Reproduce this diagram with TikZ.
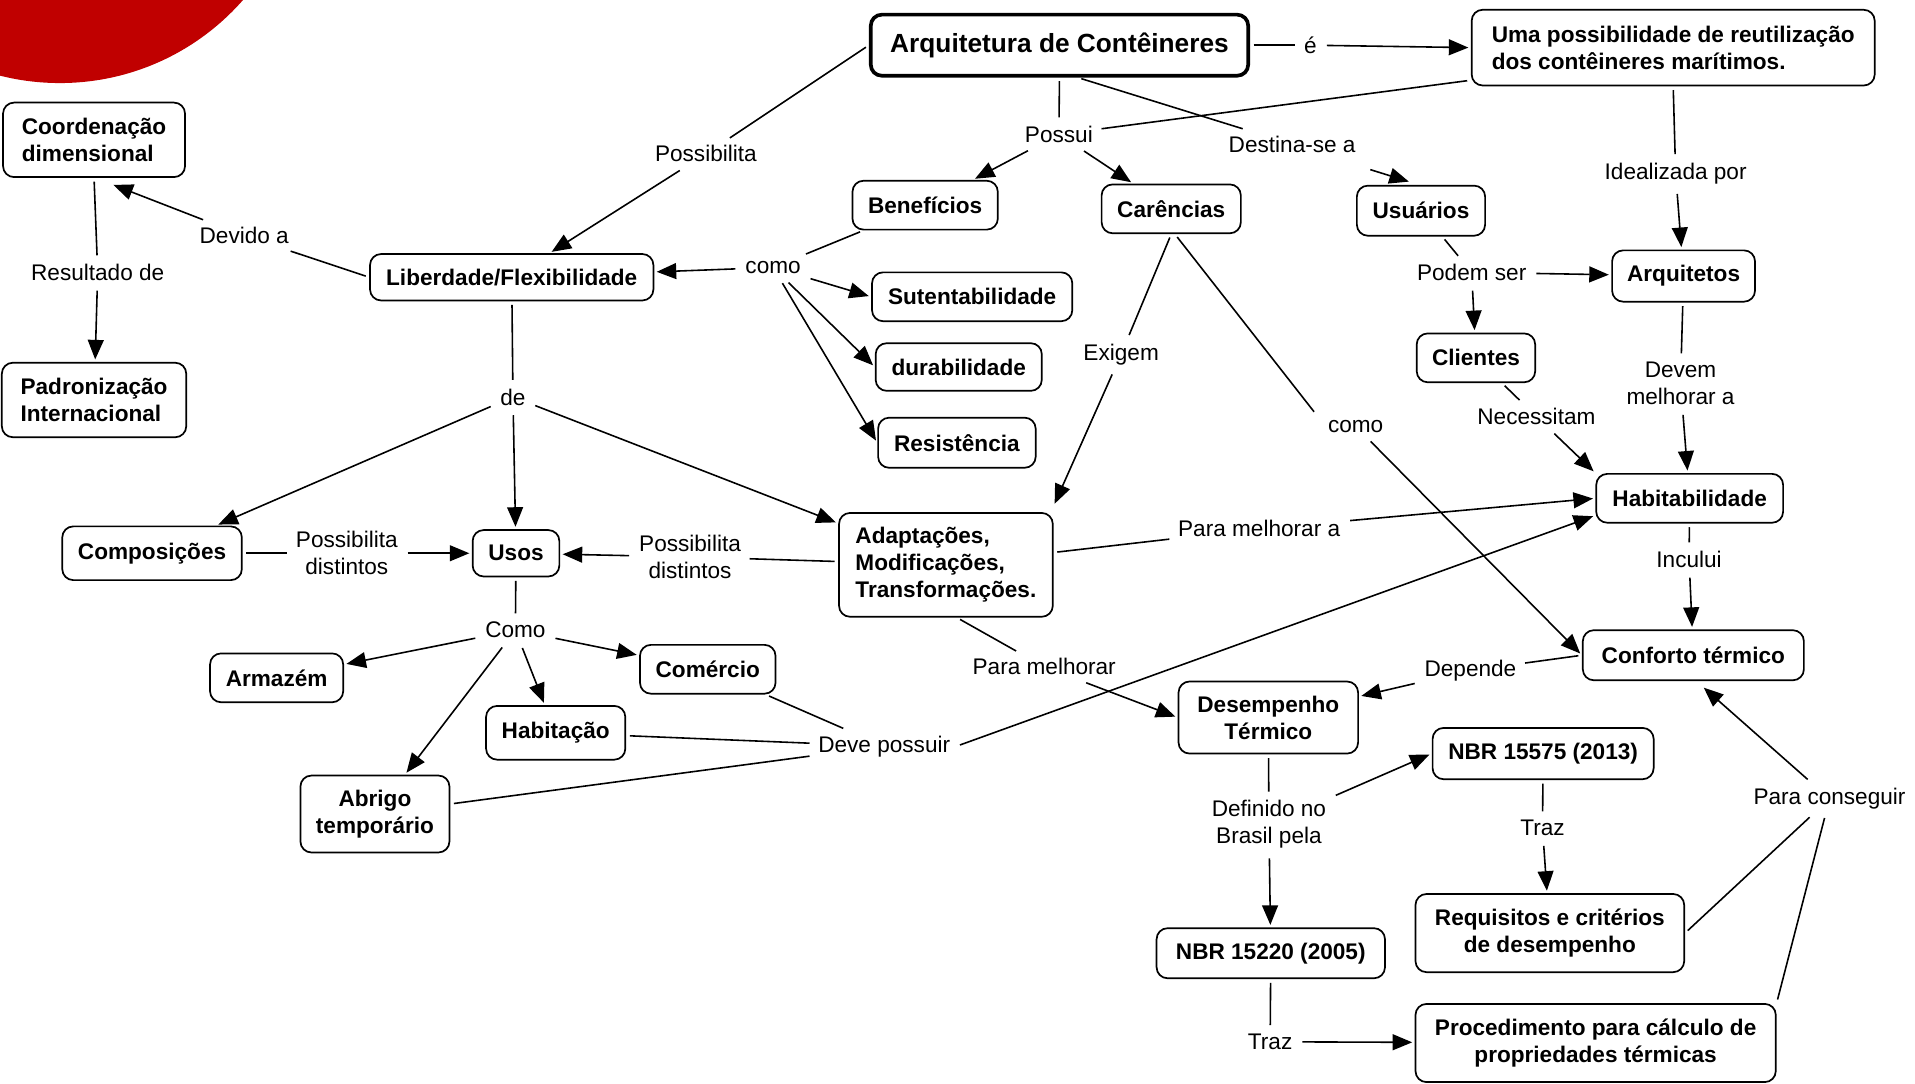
\documentclass[tikz,border=0pt]{standalone}
\usepackage{fontspec}
\setmainfont{Liberation Sans}
\usetikzlibrary{arrows.meta,calc}
\definecolor{redc}{RGB}{192,0,0}
\begin{document}
\begin{tikzpicture}[x=1pt,y=-1pt,
 concept/.style={draw, line width=1.4pt, rounded corners=9pt, font=\bfseries\fontsize{18.5}{22}\selectfont, inner sep=2pt, align=center},
 lbl/.style={font=\fontsize{18.5}{22}\selectfont, inner sep=5pt, align=center},
 ln/.style={line width=1.3pt, shorten <=3pt, shorten >=2pt},
 arr/.style={ln, -{Triangle[length=16pt,width=13pt]}},
]
\useasboundingbox (0,0) rectangle (1568,887);
\begin{scope}
\clip (0,0) rectangle (1568,887);
\fill[redc] (49,-131.4) circle (199.4);
\end{scope}

% concepts
\node[concept, line width=3pt, font=\bfseries\fontsize{21.5}{25}\selectfont, minimum width=309pt, minimum height=50pt] (arq) at (867.5,37) {Arquitetura de Contêineres};
\node[concept, align=left, minimum width=330pt, minimum height=62pt] (uma) at (1370,39) {Uma possibilidade de reutilização\\dos contêineres marítimos.};
\node[concept, align=left, minimum width=149pt, minimum height=61pt] (coord) at (77,114.5) {Coordenação\\dimensional};
\node[concept, align=left, minimum width=151pt, minimum height=61pt] (padr) at (77,327.5) {Padronização\\Internacional};
\node[concept, minimum width=232pt, minimum height=38pt] (lib) at (419,227) {Liberdade/Flexibilidade};
\node[concept, minimum width=119pt, minimum height=40pt] (ben) at (757.5,168) {Benefícios};
\node[concept, minimum width=114pt, minimum height=40pt] (car) at (959,171) {Carências};
\node[concept, minimum width=105pt, minimum height=41pt] (usu) at (1163.5,172.5) {Usuários};
\node[concept, minimum width=164pt, minimum height=40pt] (sut) at (796,243) {Sutentabilidade};
\node[concept, minimum width=136pt, minimum height=39pt] (dur) at (785,300.5) {durabilidade};
\node[concept, minimum width=129pt, minimum height=41pt] (res) at (783.5,362.5) {Resistência};
\node[concept, minimum width=117pt, minimum height=42pt] (arqt) at (1378.5,226) {Arquitetos};
\node[concept, minimum width=97pt, minimum height=40pt] (cli) at (1208.5,293) {Clientes};
\node[concept, minimum width=153pt, minimum height=40pt] (hab) at (1383.5,408) {Habitabilidade};
\node[concept, minimum width=147pt, minimum height=44pt] (comp) at (124.5,453) {Composições};
\node[concept, minimum width=71pt, minimum height=38pt] (usos) at (422.5,453) {Usos};
\node[concept, align=left, minimum width=175pt, minimum height=85pt] (adap) at (774.5,462.5) {Adaptações,\\Modificações,\\Transformações.};
\node[concept, minimum width=109pt, minimum height=40pt] (arm) at (226.5,555) {Armazém};
\node[concept, minimum width=111pt, minimum height=40pt] (come) at (579.5,548) {Comércio};
\node[concept, minimum width=114pt, minimum height=44pt] (habt) at (455,600) {Habitação};
\node[concept, minimum width=122pt, minimum height=63pt] (abr) at (307,666.5) {Abrigo\\temporário};
\node[concept, minimum width=181pt, minimum height=41pt] (conf) at (1386.5,536.5) {Conforto térmico};
\node[concept, minimum width=147pt, minimum height=59pt] (des) at (1038.5,587.5) {Desempenho\\Térmico};
\node[concept, minimum width=181pt, minimum height=42pt] (n575) at (1263.5,617) {NBR 15575 (2013)};
\node[concept, minimum width=187pt, minimum height=41pt] (n220) at (1040.5,780.5) {NBR 15220 (2005)};
\node[concept, minimum width=220pt, minimum height=64pt] (req) at (1269,764) {Requisitos e critérios\\de desempenho};
\node[concept, minimum width=295pt, minimum height=64pt] (proc) at (1306.5,854) {Procedimento para cálculo de\\propriedades térmicas};

% linking phrases
\node[lbl] (le) at (1073,37) {é};
\node[lbl] (lposs) at (578,126) {Possibilita};
\node[lbl] (lpossui) at (867,110) {Possui};
\node[lbl] (ldest) at (1058,118) {Destina-se a};
\node[lbl] (lideal) at (1372,142) {Idealizada por};
\node[lbl] (ldevido) at (200,193) {Devido a};
\node[lbl] (lresult) at (80,223) {Resultado de};
\node[lbl] (lcomoA) at (633,219) {como};
\node[lbl] (lexig) at (918,290) {Exigem};
\node[lbl] (lpodem) at (1205,223) {Podem ser};
\node[lbl] (ldevem) at (1376,314) {Devem\\melhorar a};
\node[lbl] (lde) at (420,325) {de};
\node[lbl] (lcomoB) at (1110,349) {como};
\node[lbl] (lnec) at (1258,341) {Necessitam};
\node[lbl] (lpdA) at (284,453) {Possibilita\\distintos};
\node[lbl] (lpdB) at (565,456) {Possibilita\\distintos};
\node[lbl] (lpma) at (1031,433) {Para melhorar a};
\node[lbl] (linc) at (1383,458) {Incului};
\node[lbl] (lcomoC) at (422,516) {Como};
\node[lbl] (lpm) at (855,546) {Para melhorar};
\node[lbl] (ldep) at (1204,549) {Depende};
\node[lbl] (ldp) at (724,611) {Deve possuir};
\node[lbl] (ldef) at (1039,675) {Definido no\\Brasil pela};
\node[lbl] (ltrazA) at (1263,678) {Traz};
\node[lbl] (lpc) at (1498,654) {Para conseguir};
\node[lbl] (ltrazB) at (1040,853) {Traz};

% connectors
\draw[ln] (arq.west) -- (lposs);
\draw[arr] (lposs) -- (lib);
\draw[ln] (arq.east) -- (le);
\draw[arr] (le) -- (uma.west);
\draw[ln] (arq.south) -- (lpossui);
\draw[ln] ($(uma.south west)+(0,-5)$) -- (lpossui);
\draw[arr] (lpossui) -- (ben);
\draw[arr] (lpossui) -- (car);
\draw[ln] ($(arq.south)+(15,0)$) -- (ldest);
\draw[arr] ($(ldest.south east)+(4,8)$) -- ($(usu.north)+(-8,-2)$);
\draw[ln] (uma.south) -- (lideal);
\draw[arr] (lideal) -- (arqt);
\draw[ln] (lib.west) -- (ldevido);
\draw[arr] (ldevido) -- ($(coord.south)+(14,5)$);
\draw[ln] (coord.south) -- (lresult);
\draw[arr] (lresult) -- (padr);
\draw[ln] (ben) -- (lcomoA);
\draw[arr] (lcomoA) -- (lib);
\draw[arr] (lcomoA) -- (sut.west);
\draw[arr] (lcomoA) -- (dur.west);
\draw[arr] (lcomoA) -- (res.west);
\draw[ln] (car.south) -- (lexig);
\draw[arr] (lexig) -- ($(adap.north east)+(0,-5)$);
\draw[ln] ($(car.south)+(3,0)$) -- ($(lcomoB.north west)+(-5,0)$);
\draw[arr] (lcomoB) -- (conf.west);
\draw[ln] (usu) -- (lpodem);
\draw[arr] (lpodem) -- (arqt);
\draw[arr] (lpodem) -- (cli);
\draw[ln] (arqt) -- (ldevem);
\draw[arr] (ldevem) -- (hab);
\draw[ln] (cli) -- (lnec);
\draw[arr] (lnec) -- (hab.north west);
\draw[ln] (lib) -- (lde);
\draw[arr] (lde) -- (comp);
\draw[arr] (lde) -- (usos);
\draw[arr] (lde) -- (adap);
\draw[ln] (comp) -- (lpdA);
\draw[arr] (lpdA) -- (usos);
\draw[ln] (adap) -- (lpdB);
\draw[arr] (lpdB) -- (usos);
\draw[ln] (adap) -- (lpma);
\draw[arr] (lpma) -- (hab.west);
\draw[ln] ($(adap.south)+(9,0)$) -- (lpm);
\draw[arr] (lpm) -- (des.west);
\draw[ln] (usos) -- (lcomoC);
\draw[arr] (lcomoC) -- (arm);
\draw[arr] (lcomoC) -- (come);
\draw[arr] (lcomoC) -- (habt);
\draw[arr] (lcomoC) -- (abr);
\draw[ln] (come) -- (ldp);
\draw[ln] (habt) -- (ldp);
\draw[ln] (abr) -- (ldp);
\draw[arr] (ldp.east) -- ($(hab.west)+(0,14)$);
\draw[ln] (hab) -- (linc);
\draw[arr] (linc) -- (conf);
\draw[ln] (conf.west) -- (ldep);
\draw[arr] (ldep) -- (des);
\draw[ln] (des) -- (ldef);
\draw[arr] (ldef) -- (n575.west);
\draw[arr] (ldef) -- (n220);
\draw[ln] (n575) -- (ltrazA);
\draw[arr] (ltrazA) -- (req);
\draw[ln] (n220) -- (ltrazB);
\draw[arr] (ltrazB) -- (proc);
\draw[ln] (req.east) -- (lpc);
\draw[ln] (proc.north east) -- (lpc);
\draw[arr] (lpc) -- ($(conf.south)+(7,4)$);
\end{tikzpicture}
\end{document}
